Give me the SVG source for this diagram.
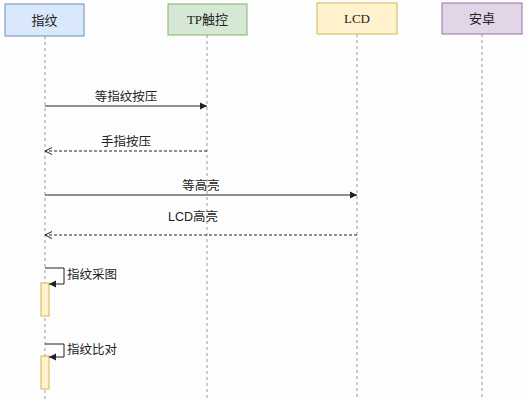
<svg xmlns="http://www.w3.org/2000/svg" width="528" height="400" viewBox="0 0 528 400">
<style>
text{font-family:"Liberation Sans","Noto Sans CJK SC",sans-serif;font-size:12.5px;fill:#222}
.lbl{font-family:"Liberation Serif","Noto Sans CJK SC",serif;font-size:13px}
.life{stroke:#999;stroke-width:1;stroke-dasharray:3,3;fill:none}
.msg{stroke:#222;stroke-width:1;fill:none}
.ret{stroke:#222;stroke-width:1;fill:none;stroke-dasharray:3,2}
.act{fill:#fff2cc;stroke:#d6b656;stroke-width:1}
</style>
<defs>
<marker id="solid" markerWidth="8" markerHeight="8" refX="7" refY="4" orient="auto" markerUnits="userSpaceOnUse"><path d="M0,0.5 L7,4 L0,7.5 Z" fill="#222"/></marker>
<marker id="open" markerWidth="8" markerHeight="8" refX="7" refY="4" orient="auto" markerUnits="userSpaceOnUse"><path d="M0,0.5 L7,4 L0,7.5" fill="none" stroke="#222"/></marker>
</defs>
<rect width="528" height="400" fill="#fdfdfd"/>
<g id="lifelines">
<line class="life" x1="45" y1="36" x2="45" y2="400"/>
<line class="life" x1="207" y1="35" x2="207" y2="400"/>
<line class="life" x1="357" y1="34" x2="357" y2="400"/>
<line class="life" x1="482" y1="34" x2="482" y2="400"/>
</g>
<g id="node-fingerprint">
<rect x="5" y="4" width="79" height="32" fill="#dae8fc" stroke="#6c8ebf"/>
<text class="lbl" x="44.5" y="24.5" text-anchor="middle">指纹</text>
</g>
<g id="node-tp">
<rect x="168" y="4" width="79" height="31" fill="#d5e8d4" stroke="#82b366"/>
<text class="lbl" x="207.5" y="24" text-anchor="middle">TP触控</text>
</g>
<g id="node-lcd">
<rect x="317" y="3" width="80" height="31" fill="#fff2cc" stroke="#d6b656"/>
<text class="lbl" x="357" y="23" text-anchor="middle">LCD</text>
</g>
<g id="node-android">
<rect x="442" y="3" width="80" height="31" fill="#e1d5e7" stroke="#9673a6"/>
<text class="lbl" x="482" y="23" text-anchor="middle">安卓</text>
</g>
<g id="activations">
<rect class="act" x="41" y="283" width="8" height="33"/>
<rect class="act" x="41" y="356" width="8" height="33"/>
</g>
<g id="connectors">
<line class="msg" x1="45" y1="106" x2="207" y2="106" marker-end="url(#solid)"/>
<text x="126" y="101" text-anchor="middle">等指纹按压</text>
<line class="ret" x1="207" y1="151" x2="45" y2="151" marker-end="url(#open)"/>
<text x="126" y="146" text-anchor="middle">手指按压</text>
<line class="msg" x1="45" y1="195" x2="357" y2="195" marker-end="url(#solid)"/>
<text x="201" y="190" text-anchor="middle">等高亮</text>
<line class="ret" x1="357" y1="235" x2="45" y2="235" marker-end="url(#open)"/>
<text x="193" y="221" text-anchor="middle">LCD高亮</text>
<path class="msg" d="M45,268 H64 V284 H49" marker-end="url(#solid)"/>
<text x="67" y="279">指纹采图</text>
<path class="msg" d="M45,344 H64 V357 H49" marker-end="url(#solid)"/>
<text x="67" y="354">指纹比对</text>
</g>
</svg>
